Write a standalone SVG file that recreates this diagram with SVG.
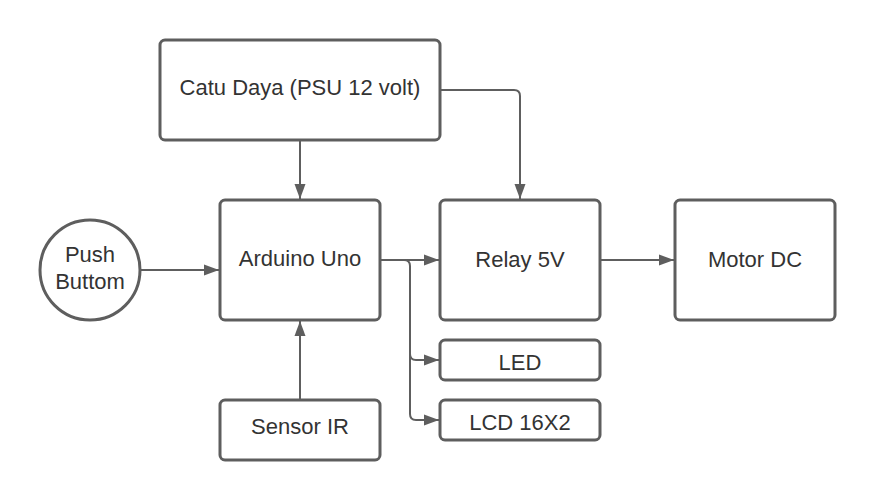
<svg xmlns="http://www.w3.org/2000/svg" width="875" height="500" viewBox="0 0 875 500">
<style>
.box{fill:#fff;stroke:#5e5e5e;stroke-width:3}
.lbl{font-family:"Liberation Sans",Arial,sans-serif;font-size:22px;fill:#333;text-anchor:middle}
.wire{fill:none;stroke:#5e5e5e;stroke-width:2}
</style>
<defs>
<marker id="arr" markerWidth="16" markerHeight="12" refX="15" refY="6" orient="auto" markerUnits="userSpaceOnUse">
<path d="M0,0.5 L15,6 L0,11.5 Z" fill="#5e5e5e"/>
</marker>
</defs>
<rect width="875" height="500" fill="#fff"/>
<g id="connectors">
<path class="wire" d="M300,141 L300,199" marker-end="url(#arr)"/>
<path class="wire" d="M441,90 L514,90 Q520,90 520,96 L520,199" marker-end="url(#arr)"/>
<path class="wire" d="M141,270 L219,270" marker-end="url(#arr)"/>
<path class="wire" d="M300,399 L300,321" marker-end="url(#arr)"/>
<path class="wire" d="M381,260 L439,260" marker-end="url(#arr)"/>
<path class="wire" d="M404,260 Q410,260 410,266 L410,354 Q410,360 416,360 L439,360" marker-end="url(#arr)"/>
<path class="wire" d="M410,354 L410,414 Q410,420 416,420 L439,420" marker-end="url(#arr)"/>
<path class="wire" d="M601,260 L674,260" marker-end="url(#arr)"/>
</g>
<g id="catu-daya"><rect class="box" x="160" y="40" width="280" height="100" rx="5"/><text class="lbl" x="300" y="95">Catu Daya (PSU 12 volt)</text></g>
<g id="push-buttom"><circle class="box" cx="90" cy="270" r="50"/><text class="lbl" x="90" y="262">Push</text><text class="lbl" x="90" y="289">Buttom</text></g>
<g id="arduino"><rect class="box" x="220" y="200" width="160" height="120" rx="5"/><text class="lbl" x="300" y="266">Arduino Uno</text></g>
<g id="relay"><rect class="box" x="440" y="200" width="160" height="120" rx="5"/><text class="lbl" x="520" y="267">Relay 5V</text></g>
<g id="motor"><rect class="box" x="675" y="200" width="160" height="120" rx="5"/><text class="lbl" x="755" y="267">Motor DC</text></g>
<g id="led"><rect class="box" x="440" y="340" width="160" height="40" rx="5"/><text class="lbl" x="520" y="370">LED</text></g>
<g id="lcd"><rect class="box" x="440" y="400" width="160" height="40" rx="5"/><text class="lbl" x="520" y="430">LCD 16X2</text></g>
<g id="sensor-ir"><rect class="box" x="220" y="400" width="160" height="60" rx="5"/><text class="lbl" x="300" y="434">Sensor IR</text></g>
</svg>
